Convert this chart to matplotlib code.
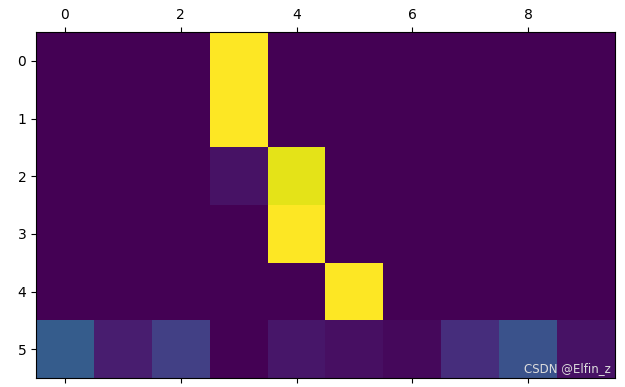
import numpy as np
import matplotlib.pyplot as plt

# 6x10 matrix, values
row0 = [0, 0, 0, 1.0, 0, 0, 0, 0, 0, 0]
row1 = [0, 0, 0, 1.0, 0, 0, 0, 0, 0, 0]
row2 = [0, 0, 0, 0.05, 0.96, 0, 0, 0, 0, 0]
row3 = [0, 0, 0, 0, 1.0, 0, 0, 0, 0, 0]
row4 = [0, 0, 0, 0, 0, 1.0, 0, 0, 0, 0]
row5 = [0.29, 0.08, 0.19, 0, 0.06, 0.04, 0.02, 0.13, 0.25, 0.05]

data = np.array([row0, row1, row2, row3, row4, row5])

fig = plt.figure(figsize=(6.25, 3.87), dpi=100)
ax = fig.add_axes([36 / 625, 9 / 387, 579 / 625, 346 / 387])
ax.matshow(data, cmap='viridis', aspect='auto')

fig.text(0.978, 0.03, 'CSDN @Elfin_z', ha='right', va='bottom',
         color='#dddddd', fontsize=8.5)

fig.savefig('out.png', dpi=100)
